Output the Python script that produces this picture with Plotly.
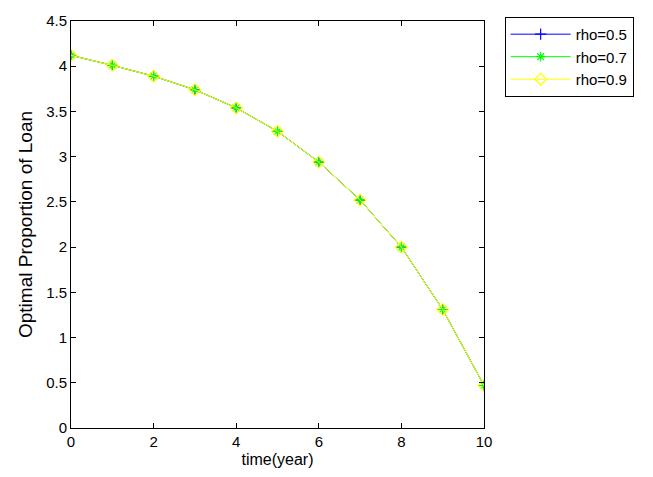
import plotly.graph_objects as go

t = [0, 1, 2, 3, 4, 5, 6, 7, 8, 9, 10]
rho05 = [4.12, 4.01, 3.89, 3.74, 3.54, 3.28, 2.94, 2.52, 2.00, 1.31, 0.47]
rho07 = [4.12, 4.01, 3.89, 3.74, 3.54, 3.28, 2.94, 2.52, 2.00, 1.31, 0.47]
rho09 = [4.12, 4.01, 3.89, 3.74, 3.54, 3.28, 2.94, 2.52, 2.00, 1.31, 0.47]
names = ["rho=0.5", "rho=0.7", "rho=0.9"]
colors = ["#0000ff", "#00ff00", "#ffff00"]
symbols = ["cross-thin-open", "asterisk-open", "diamond-open"]
sizes = [8, 8, 9]

FONT = "Liberation Sans, Arial, Helvetica, sans-serif"

fig = go.Figure()
for y, n, c, s, sz in zip([rho05, rho07, rho09], names, colors, symbols, sizes):
    fig.add_trace(go.Scatter(
        x=t, y=y, name=n, mode="lines+markers",
        line=dict(color=c, width=1),
        marker=dict(symbol=s, size=sz, color=c, line=dict(color=c, width=1.2)),
    ))

axis_common = dict(
    showline=True, linecolor="black", linewidth=1, mirror="ticks",
    ticks="inside", ticklen=5, tickcolor="black", showgrid=False, zeroline=False,
    tickfont=dict(family=FONT, size=15, color="black"),
)

fig.update_layout(
    width=653, height=477,
    margin=dict(l=71, r=169, t=15, b=49),
    paper_bgcolor="white", plot_bgcolor="white",
    xaxis=dict(range=[0, 10], tickvals=[0, 2, 4, 6, 8, 10],
               title=dict(text="time(year)", font=dict(family=FONT, size=16, color="black"), standoff=4),
               **axis_common),
    yaxis=dict(range=[0, 4.5], tickvals=[0, 0.5, 1, 1.5, 2, 2.5, 3, 3.5, 4, 4.5],
               ticktext=["0", "0.5", "1", "1.5", "2", "2.5", "3", "3.5", "4", "4.5"],
               title=dict(text="Optimal Proportion of Loan", font=dict(family=FONT, size=19, color="black"), standoff=8),
               **axis_common),
    legend=dict(x=1.05, y=1.01, xanchor="left", yanchor="top",
                bordercolor="black", borderwidth=1, bgcolor="white",
                font=dict(family=FONT, size=15, color="black"),
                itemwidth=60, tracegroupgap=0),
    showlegend=True,
)

fig.write_html("out.html")
